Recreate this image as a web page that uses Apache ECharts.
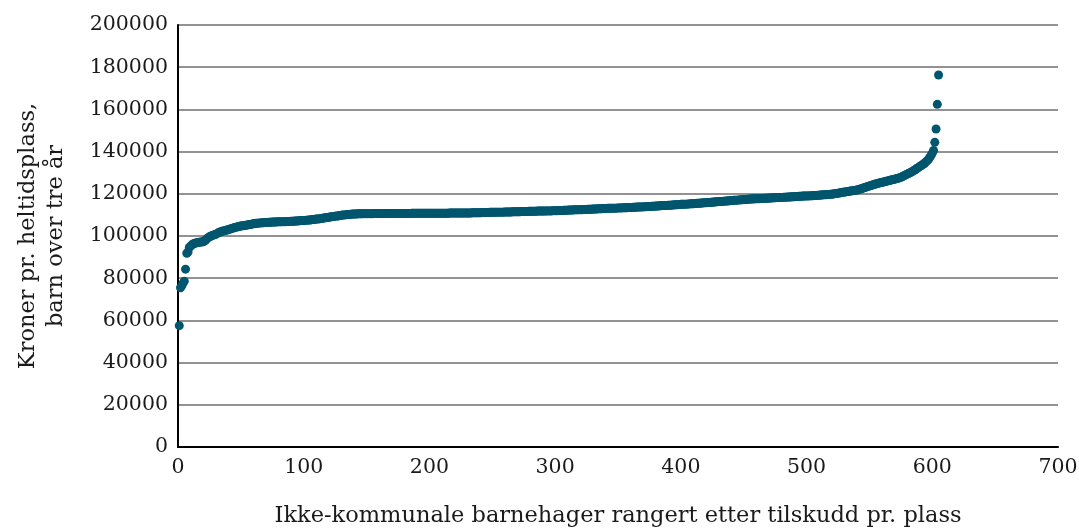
<!DOCTYPE html>
<html>
<head>
<meta charset="utf-8">
<title>Tilskudd pr. plass</title>
<script src="https://cdn.jsdelivr.net/npm/echarts@6/dist/echarts.min.js"></script>
<style>
  html, body { margin: 0; padding: 0; background: #ffffff; overflow: hidden; }
  #chart { width: 1079px; height: 529px; }
</style>
</head>
<body>
<div id="chart"></div>
<script>
// Kroner pr. heltidsplass for each non-municipal kindergarten, sorted ascending (rank 1..605)
const kronerPrPlass = [
  57500, 75500, 76400, 77600, 78600, 84300, 91800, 92400, 94600, 95200,
  95800, 96200, 96500, 96700, 96800, 96900, 97000, 97100, 97200, 97300,
  97600, 98100, 98700, 99200, 99600, 99900, 100200, 100400, 100600, 100800,
  101100, 101500, 101800, 102000, 102200, 102400, 102500, 102700, 102800, 103000,
  103200, 103400, 103600, 103800, 104000, 104200, 104300, 104400, 104600, 104700,
  104800, 104900, 105000, 105100, 105200, 105300, 105400, 105500, 105700, 105800,
  105900, 106000, 106100, 106100, 106200, 106200, 106300, 106300, 106400, 106400,
  106400, 106500, 106500, 106500, 106600, 106600, 106600, 106600, 106700, 106700,
  106700, 106700, 106800, 106800, 106800, 106800, 106900, 106900, 106900, 107000,
  107000, 107000, 107100, 107100, 107100, 107200, 107200, 107300, 107300, 107400,
  107400, 107500, 107500, 107600, 107600, 107700, 107800, 107800, 107900, 108000,
  108100, 108100, 108200, 108300, 108400, 108500, 108600, 108700, 108800, 108900,
  109000, 109100, 109200, 109300, 109400, 109500, 109500, 109600, 109700, 109800,
  109900, 110000, 110000, 110100, 110200, 110200, 110300, 110300, 110400, 110400,
  110400, 110400, 110500, 110500, 110500, 110500, 110600, 110600, 110600, 110600,
  110600, 110600, 110600, 110600, 110600, 110700, 110700, 110700, 110700, 110700,
  110700, 110700, 110700, 110700, 110700, 110700, 110700, 110700, 110700, 110700,
  110700, 110700, 110700, 110700, 110700, 110700, 110700, 110700, 110700, 110700,
  110700, 110700, 110700, 110700, 110700, 110800, 110800, 110800, 110800, 110800,
  110800, 110800, 110800, 110800, 110800, 110800, 110800, 110800, 110800, 110800,
  110800, 110800, 110800, 110800, 110800, 110800, 110800, 110800, 110800, 110800,
  110800, 110800, 110800, 110800, 110800, 110900, 110900, 110900, 110900, 110900,
  110900, 110900, 110900, 110900, 110900, 110900, 110900, 110900, 110900, 110900,
  110900, 110900, 110900, 111000, 111000, 111000, 111000, 111000, 111000, 111000,
  111000, 111100, 111100, 111100, 111100, 111100, 111100, 111200, 111200, 111200,
  111200, 111200, 111200, 111300, 111300, 111300, 111300, 111300, 111300, 111400,
  111400, 111400, 111400, 111400, 111400, 111500, 111500, 111500, 111500, 111500,
  111500, 111500, 111600, 111600, 111600, 111600, 111600, 111600, 111700, 111700,
  111700, 111700, 111700, 111700, 111700, 111800, 111800, 111800, 111800, 111800,
  111800, 111800, 111900, 111900, 111900, 111900, 111900, 112000, 112000, 112000,
  112000, 112000, 112100, 112100, 112100, 112100, 112200, 112200, 112200, 112200,
  112300, 112300, 112300, 112300, 112400, 112400, 112400, 112400, 112500, 112500,
  112500, 112500, 112600, 112600, 112600, 112700, 112700, 112700, 112700, 112800,
  112800, 112800, 112800, 112900, 112900, 112900, 112900, 113000, 113000, 113000,
  113000, 113100, 113100, 113100, 113100, 113200, 113200, 113200, 113200, 113300,
  113300, 113300, 113300, 113400, 113400, 113400, 113400, 113500, 113500, 113500,
  113500, 113600, 113600, 113600, 113700, 113700, 113700, 113800, 113800, 113800,
  113900, 113900, 113900, 114000, 114000, 114000, 114100, 114100, 114100, 114200,
  114200, 114200, 114300, 114300, 114400, 114400, 114400, 114500, 114500, 114600,
  114600, 114600, 114700, 114700, 114800, 114800, 114800, 114900, 114900, 115000,
  115000, 115000, 115100, 115100, 115100, 115200, 115200, 115300, 115300, 115300,
  115400, 115400, 115500, 115500, 115500, 115600, 115600, 115700, 115700, 115800,
  115800, 115900, 115900, 116000, 116000, 116100, 116100, 116200, 116200, 116300,
  116300, 116400, 116400, 116500, 116500, 116600, 116600, 116700, 116700, 116800,
  116800, 116900, 116900, 117000, 117000, 117100, 117100, 117200, 117200, 117300,
  117300, 117300, 117400, 117400, 117500, 117500, 117500, 117600, 117600, 117600,
  117700, 117700, 117700, 117800, 117800, 117800, 117900, 117900, 117900, 118000,
  118000, 118000, 118100, 118100, 118100, 118200, 118200, 118200, 118300, 118300,
  118300, 118400, 118400, 118400, 118500, 118500, 118500, 118600, 118600, 118600,
  118700, 118700, 118700, 118800, 118800, 118800, 118900, 118900, 118900, 119000,
  119000, 119000, 119100, 119100, 119100, 119200, 119200, 119200, 119300, 119300,
  119400, 119400, 119500, 119500, 119600, 119600, 119700, 119700, 119800, 119800,
  119900, 120000, 120100, 120200, 120300, 120400, 120500, 120600, 120700, 120800,
  120900, 121000, 121100, 121200, 121300, 121400, 121500, 121600, 121700, 121800,
  121900, 122100, 122300, 122500, 122700, 122900, 123100, 123300, 123500, 123700,
  123900, 124100, 124300, 124500, 124600, 124800, 125000, 125100, 125300, 125400,
  125600, 125700, 125900, 126000, 126200, 126300, 126500, 126600, 126800, 126900,
  127100, 127200, 127400, 127600, 127800, 128100, 128400, 128700, 129000, 129300,
  129600, 129900, 130200, 130500, 130900, 131300, 131700, 132100, 132500, 132900,
  133300, 133700, 134100, 134600, 135100, 135700, 136400, 137200, 138200, 139300,
  140500, 144400, 150700, 162400, 176300
];

const xTitle = 'Ikke-kommunale barnehager rangert etter tilskudd pr. plass';
const yTitle = 'Kroner pr. heltidsplass,\nbarn over tre år';
const xMin = 0, xMax = 700, xStep = 100;
const yMin = 0, yMax = 200000, yStep = 20000;

// Each kindergarten is plotted at its rank position
const points = kronerPrPlass.map((v, i) => [i + 1, v]);

const font = 'DejaVu Serif';
const textColor = '#1a1a1a';
const chart = echarts.init(document.getElementById('chart'), null, { renderer: 'canvas', width: 1079, height: 529 });

chart.setOption({
  backgroundColor: '#ffffff',
  animation: false,
  grid: { left: 178, right: 21, top: 25, bottom: 82, containLabel: false, outerBoundsMode: 'none' },
  xAxis: {
    type: 'value',
    min: xMin, max: xMax, interval: xStep,
    name: xTitle,
    nameLocation: 'middle',
    nameGap: 58,
    nameTextStyle: { fontFamily: font, fontSize: 22.5, color: textColor },
    axisLine: { show: true, onZero: false, lineStyle: { color: '#000000', width: 2 } },
    axisTick: { show: false },
    axisLabel: { fontFamily: font, fontSize: 20.5, color: textColor, margin: 10,
                 formatter: v => String(v) },
    splitLine: { show: false }
  },
  yAxis: {
    type: 'value',
    min: yMin, max: yMax, interval: yStep,
    name: yTitle,
    nameLocation: 'middle',
    nameRotate: 90,
    nameGap: 108,
    nameTextStyle: { fontFamily: font, fontSize: 22.5, color: textColor, lineHeight: 28, align: 'center' },
    axisLine: { show: true, lineStyle: { color: '#000000', width: 2 } },
    axisTick: { show: false },
    axisLabel: { fontFamily: font, fontSize: 20.5, color: textColor, margin: 10,
                 formatter: v => String(v) },
    splitLine: { show: true, lineStyle: { color: '#6e6e6e', width: 1.5 } }
  },
  series: [{
    type: 'scatter',
    data: points,
    symbol: 'circle',
    symbolSize: 9,
    itemStyle: { color: '#00566e', opacity: 1 },
    emphasis: { disabled: true }
  }]
});
</script>
</body>
</html>
